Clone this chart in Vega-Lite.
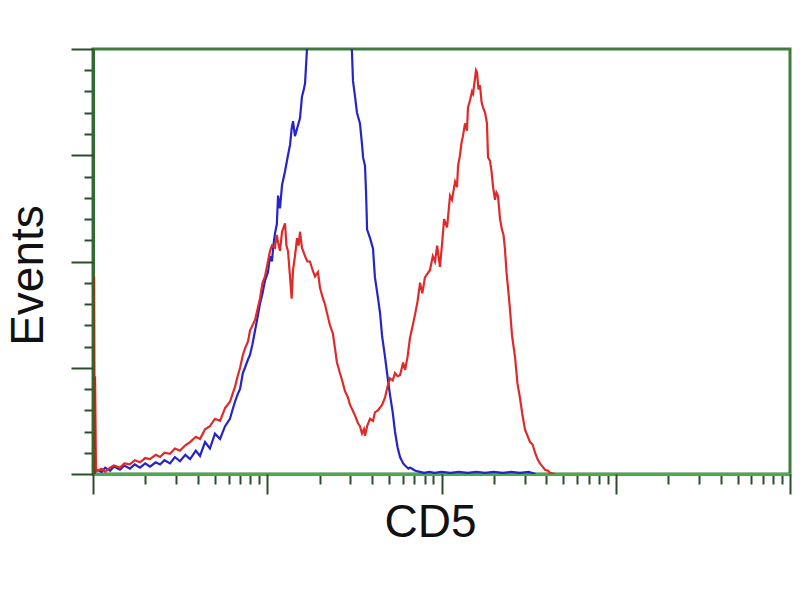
{
  "$schema": "https://vega.github.io/schema/vega-lite/v6.json",
  "width": 697,
  "height": 425,
  "autosize": "none",
  "padding": {"left": 93, "top": 49, "right": 10, "bottom": 126},
  "background": "white",
  "config": {
    "view": {"stroke": "#3e7b3e", "strokeWidth": 3},
    "axis": {"grid": false}
  },
  "datasets": {
    "hist": [
      {"s": "Control", "x": 0.005, "y": 0}, {"s": "Control", "x": 0.023, "y": 4}, {"s": "Control", "x": 0.05, "y": 2}, {"s": "Control", "x": 0.07, "y": 6}, {"s": "Control", "x": 0.098, "y": 3}, {"s": "Control", "x": 0.12, "y": 7}, {"s": "Control", "x": 0.155, "y": 4}, {"s": "Control", "x": 0.18, "y": 8}, {"s": "Control", "x": 0.212, "y": 5}, {"s": "Control", "x": 0.24, "y": 9}, {"s": "Control", "x": 0.27, "y": 6}, {"s": "Control", "x": 0.3, "y": 10}, {"s": "Control", "x": 0.327, "y": 7}, {"s": "Control", "x": 0.36, "y": 11}, {"s": "Control", "x": 0.385, "y": 9}, {"s": "Control", "x": 0.41, "y": 13}, {"s": "Control", "x": 0.442, "y": 10}, {"s": "Control", "x": 0.47, "y": 16}, {"s": "Control", "x": 0.499, "y": 12}, {"s": "Control", "x": 0.53, "y": 18}, {"s": "Control", "x": 0.557, "y": 14}, {"s": "Control", "x": 0.59, "y": 22}, {"s": "Control", "x": 0.614, "y": 17}, {"s": "Control", "x": 0.643, "y": 30}, {"s": "Control", "x": 0.671, "y": 24}, {"s": "Control", "x": 0.7, "y": 38}, {"s": "Control", "x": 0.729, "y": 33}, {"s": "Control", "x": 0.758, "y": 45}, {"s": "Control", "x": 0.786, "y": 52}, {"s": "Control", "x": 0.8, "y": 60}, {"s": "Control", "x": 0.815, "y": 68}, {"s": "Control", "x": 0.83, "y": 75}, {"s": "Control", "x": 0.844, "y": 80}, {"s": "Control", "x": 0.86, "y": 95}, {"s": "Control", "x": 0.872, "y": 100}, {"s": "Control", "x": 0.89, "y": 108}, {"s": "Control", "x": 0.901, "y": 112}, {"s": "Control", "x": 0.915, "y": 122}, {"s": "Control", "x": 0.93, "y": 135}, {"s": "Control", "x": 0.945, "y": 148}, {"s": "Control", "x": 0.958, "y": 160}, {"s": "Control", "x": 0.973, "y": 170}, {"s": "Control", "x": 0.987, "y": 182}, {"s": "Control", "x": 1.004, "y": 190}, {"s": "Control", "x": 1.016, "y": 205}, {"s": "Control", "x": 1.027, "y": 200}, {"s": "Control", "x": 1.035, "y": 215}, {"s": "Control", "x": 1.044, "y": 226}, {"s": "Control", "x": 1.055, "y": 235}, {"s": "Control", "x": 1.062, "y": 262}, {"s": "Control", "x": 1.073, "y": 250}, {"s": "Control", "x": 1.085, "y": 272}, {"s": "Control", "x": 1.102, "y": 285}, {"s": "Control", "x": 1.119, "y": 300}, {"s": "Control", "x": 1.131, "y": 310}, {"s": "Control", "x": 1.14, "y": 325}, {"s": "Control", "x": 1.148, "y": 332}, {"s": "Control", "x": 1.159, "y": 318}, {"s": "Control", "x": 1.171, "y": 325}, {"s": "Control", "x": 1.188, "y": 335}, {"s": "Control", "x": 1.199, "y": 355}, {"s": "Control", "x": 1.21, "y": 362}, {"s": "Control", "x": 1.217, "y": 368}, {"s": "Control", "x": 1.228, "y": 400}, {"s": "Control", "x": 1.24, "y": 440}, {"s": "Control", "x": 1.26, "y": 470}, {"s": "Control", "x": 1.3, "y": 500}, {"s": "Control", "x": 1.35, "y": 520}, {"s": "Control", "x": 1.4, "y": 510}, {"s": "Control", "x": 1.44, "y": 470}, {"s": "Control", "x": 1.475, "y": 420}, {"s": "Control", "x": 1.486, "y": 398}, {"s": "Control", "x": 1.492, "y": 370}, {"s": "Control", "x": 1.504, "y": 355}, {"s": "Control", "x": 1.515, "y": 340}, {"s": "Control", "x": 1.532, "y": 330}, {"s": "Control", "x": 1.544, "y": 310}, {"s": "Control", "x": 1.55, "y": 298}, {"s": "Control", "x": 1.561, "y": 290}, {"s": "Control", "x": 1.567, "y": 265}, {"s": "Control", "x": 1.573, "y": 230}, {"s": "Control", "x": 1.59, "y": 222}, {"s": "Control", "x": 1.607, "y": 212}, {"s": "Control", "x": 1.618, "y": 185}, {"s": "Control", "x": 1.636, "y": 165}, {"s": "Control", "x": 1.647, "y": 152}, {"s": "Control", "x": 1.659, "y": 130}, {"s": "Control", "x": 1.676, "y": 110}, {"s": "Control", "x": 1.69, "y": 92}, {"s": "Control", "x": 1.704, "y": 75}, {"s": "Control", "x": 1.72, "y": 58}, {"s": "Control", "x": 1.733, "y": 40}, {"s": "Control", "x": 1.748, "y": 25}, {"s": "Control", "x": 1.762, "y": 16}, {"s": "Control", "x": 1.78, "y": 10}, {"s": "Control", "x": 1.791, "y": 8}, {"s": "Control", "x": 1.81, "y": 5}, {"s": "Control", "x": 1.819, "y": 6}, {"s": "Control", "x": 1.85, "y": 3}, {"s": "Control", "x": 1.877, "y": 2}, {"s": "Control", "x": 1.9, "y": 1}, {"s": "Control", "x": 1.93, "y": 2}, {"s": "Control", "x": 1.96, "y": 1}, {"s": "Control", "x": 2.0, "y": 2}, {"s": "Control", "x": 2.05, "y": 1}, {"s": "Control", "x": 2.1, "y": 2}, {"s": "Control", "x": 2.15, "y": 1}, {"s": "Control", "x": 2.2, "y": 2}, {"s": "Control", "x": 2.25, "y": 1}, {"s": "Control", "x": 2.3, "y": 2}, {"s": "Control", "x": 2.35, "y": 1}, {"s": "Control", "x": 2.4, "y": 2}, {"s": "Control", "x": 2.45, "y": 1}, {"s": "Control", "x": 2.5, "y": 2}, {"s": "Control", "x": 2.54, "y": 0},
      {"s": "CD5", "x": 0.0, "y": 0}, {"s": "CD5", "x": 0.006, "y": 91}, {"s": "CD5", "x": 0.012, "y": 91}, {"s": "CD5", "x": 0.017, "y": 5}, {"s": "CD5", "x": 0.023, "y": 3}, {"s": "CD5", "x": 0.05, "y": 5}, {"s": "CD5", "x": 0.07, "y": 2}, {"s": "CD5", "x": 0.098, "y": 6}, {"s": "CD5", "x": 0.12, "y": 8}, {"s": "CD5", "x": 0.155, "y": 6}, {"s": "CD5", "x": 0.18, "y": 10}, {"s": "CD5", "x": 0.212, "y": 9}, {"s": "CD5", "x": 0.24, "y": 13}, {"s": "CD5", "x": 0.27, "y": 11}, {"s": "CD5", "x": 0.3, "y": 15}, {"s": "CD5", "x": 0.327, "y": 14}, {"s": "CD5", "x": 0.36, "y": 18}, {"s": "CD5", "x": 0.385, "y": 16}, {"s": "CD5", "x": 0.41, "y": 20}, {"s": "CD5", "x": 0.442, "y": 19}, {"s": "CD5", "x": 0.47, "y": 24}, {"s": "CD5", "x": 0.499, "y": 22}, {"s": "CD5", "x": 0.53, "y": 27}, {"s": "CD5", "x": 0.557, "y": 30}, {"s": "CD5", "x": 0.59, "y": 35}, {"s": "CD5", "x": 0.614, "y": 33}, {"s": "CD5", "x": 0.643, "y": 42}, {"s": "CD5", "x": 0.671, "y": 45}, {"s": "CD5", "x": 0.7, "y": 52}, {"s": "CD5", "x": 0.729, "y": 50}, {"s": "CD5", "x": 0.758, "y": 62}, {"s": "CD5", "x": 0.786, "y": 68}, {"s": "CD5", "x": 0.8, "y": 75}, {"s": "CD5", "x": 0.815, "y": 82}, {"s": "CD5", "x": 0.83, "y": 92}, {"s": "CD5", "x": 0.844, "y": 100}, {"s": "CD5", "x": 0.86, "y": 112}, {"s": "CD5", "x": 0.872, "y": 118}, {"s": "CD5", "x": 0.89, "y": 125}, {"s": "CD5", "x": 0.901, "y": 135}, {"s": "CD5", "x": 0.93, "y": 145}, {"s": "CD5", "x": 0.958, "y": 165}, {"s": "CD5", "x": 0.973, "y": 180}, {"s": "CD5", "x": 0.987, "y": 186}, {"s": "CD5", "x": 1.004, "y": 200}, {"s": "CD5", "x": 1.016, "y": 210}, {"s": "CD5", "x": 1.027, "y": 215}, {"s": "CD5", "x": 1.044, "y": 213}, {"s": "CD5", "x": 1.055, "y": 225}, {"s": "CD5", "x": 1.062, "y": 218}, {"s": "CD5", "x": 1.073, "y": 210}, {"s": "CD5", "x": 1.085, "y": 228}, {"s": "CD5", "x": 1.102, "y": 236}, {"s": "CD5", "x": 1.11, "y": 215}, {"s": "CD5", "x": 1.119, "y": 210}, {"s": "CD5", "x": 1.131, "y": 185}, {"s": "CD5", "x": 1.14, "y": 165}, {"s": "CD5", "x": 1.148, "y": 192}, {"s": "CD5", "x": 1.159, "y": 205}, {"s": "CD5", "x": 1.171, "y": 222}, {"s": "CD5", "x": 1.18, "y": 215}, {"s": "CD5", "x": 1.188, "y": 228}, {"s": "CD5", "x": 1.199, "y": 213}, {"s": "CD5", "x": 1.217, "y": 205}, {"s": "CD5", "x": 1.23, "y": 200}, {"s": "CD5", "x": 1.245, "y": 200}, {"s": "CD5", "x": 1.26, "y": 192}, {"s": "CD5", "x": 1.274, "y": 186}, {"s": "CD5", "x": 1.291, "y": 190}, {"s": "CD5", "x": 1.303, "y": 175}, {"s": "CD5", "x": 1.32, "y": 165}, {"s": "CD5", "x": 1.331, "y": 160}, {"s": "CD5", "x": 1.345, "y": 150}, {"s": "CD5", "x": 1.36, "y": 140}, {"s": "CD5", "x": 1.377, "y": 132}, {"s": "CD5", "x": 1.389, "y": 118}, {"s": "CD5", "x": 1.4, "y": 105}, {"s": "CD5", "x": 1.417, "y": 95}, {"s": "CD5", "x": 1.43, "y": 88}, {"s": "CD5", "x": 1.446, "y": 78}, {"s": "CD5", "x": 1.463, "y": 72}, {"s": "CD5", "x": 1.475, "y": 65}, {"s": "CD5", "x": 1.49, "y": 60}, {"s": "CD5", "x": 1.504, "y": 55}, {"s": "CD5", "x": 1.52, "y": 48}, {"s": "CD5", "x": 1.532, "y": 45}, {"s": "CD5", "x": 1.544, "y": 38}, {"s": "CD5", "x": 1.555, "y": 42}, {"s": "CD5", "x": 1.561, "y": 36}, {"s": "CD5", "x": 1.573, "y": 45}, {"s": "CD5", "x": 1.59, "y": 52}, {"s": "CD5", "x": 1.607, "y": 50}, {"s": "CD5", "x": 1.618, "y": 58}, {"s": "CD5", "x": 1.636, "y": 60}, {"s": "CD5", "x": 1.659, "y": 65}, {"s": "CD5", "x": 1.676, "y": 72}, {"s": "CD5", "x": 1.69, "y": 82}, {"s": "CD5", "x": 1.704, "y": 90}, {"s": "CD5", "x": 1.72, "y": 88}, {"s": "CD5", "x": 1.733, "y": 95}, {"s": "CD5", "x": 1.748, "y": 92}, {"s": "CD5", "x": 1.762, "y": 93}, {"s": "CD5", "x": 1.78, "y": 105}, {"s": "CD5", "x": 1.791, "y": 98}, {"s": "CD5", "x": 1.805, "y": 110}, {"s": "CD5", "x": 1.819, "y": 128}, {"s": "CD5", "x": 1.835, "y": 140}, {"s": "CD5", "x": 1.848, "y": 150}, {"s": "CD5", "x": 1.862, "y": 162}, {"s": "CD5", "x": 1.877, "y": 180}, {"s": "CD5", "x": 1.89, "y": 170}, {"s": "CD5", "x": 1.905, "y": 185}, {"s": "CD5", "x": 1.917, "y": 188}, {"s": "CD5", "x": 1.934, "y": 192}, {"s": "CD5", "x": 1.95, "y": 205}, {"s": "CD5", "x": 1.963, "y": 200}, {"s": "CD5", "x": 1.975, "y": 215}, {"s": "CD5", "x": 1.991, "y": 195}, {"s": "CD5", "x": 2.003, "y": 216}, {"s": "CD5", "x": 2.015, "y": 240}, {"s": "CD5", "x": 2.032, "y": 232}, {"s": "CD5", "x": 2.049, "y": 262}, {"s": "CD5", "x": 2.06, "y": 258}, {"s": "CD5", "x": 2.078, "y": 275}, {"s": "CD5", "x": 2.089, "y": 270}, {"s": "CD5", "x": 2.095, "y": 290}, {"s": "CD5", "x": 2.106, "y": 300}, {"s": "CD5", "x": 2.115, "y": 312}, {"s": "CD5", "x": 2.123, "y": 318}, {"s": "CD5", "x": 2.135, "y": 330}, {"s": "CD5", "x": 2.146, "y": 323}, {"s": "CD5", "x": 2.152, "y": 345}, {"s": "CD5", "x": 2.164, "y": 352}, {"s": "CD5", "x": 2.175, "y": 360}, {"s": "CD5", "x": 2.181, "y": 358}, {"s": "CD5", "x": 2.192, "y": 372}, {"s": "CD5", "x": 2.198, "y": 380}, {"s": "CD5", "x": 2.204, "y": 378}, {"s": "CD5", "x": 2.212, "y": 362}, {"s": "CD5", "x": 2.221, "y": 366}, {"s": "CD5", "x": 2.23, "y": 350}, {"s": "CD5", "x": 2.238, "y": 345}, {"s": "CD5", "x": 2.25, "y": 340}, {"s": "CD5", "x": 2.261, "y": 330}, {"s": "CD5", "x": 2.267, "y": 298}, {"s": "CD5", "x": 2.278, "y": 295}, {"s": "CD5", "x": 2.287, "y": 285}, {"s": "CD5", "x": 2.296, "y": 270}, {"s": "CD5", "x": 2.307, "y": 258}, {"s": "CD5", "x": 2.315, "y": 265}, {"s": "CD5", "x": 2.324, "y": 262}, {"s": "CD5", "x": 2.336, "y": 240}, {"s": "CD5", "x": 2.347, "y": 230}, {"s": "CD5", "x": 2.356, "y": 225}, {"s": "CD5", "x": 2.364, "y": 212}, {"s": "CD5", "x": 2.373, "y": 190}, {"s": "CD5", "x": 2.382, "y": 175}, {"s": "CD5", "x": 2.393, "y": 155}, {"s": "CD5", "x": 2.405, "y": 130}, {"s": "CD5", "x": 2.422, "y": 110}, {"s": "CD5", "x": 2.436, "y": 85}, {"s": "CD5", "x": 2.45, "y": 72}, {"s": "CD5", "x": 2.465, "y": 55}, {"s": "CD5", "x": 2.479, "y": 42}, {"s": "CD5", "x": 2.496, "y": 35}, {"s": "CD5", "x": 2.508, "y": 30}, {"s": "CD5", "x": 2.522, "y": 28}, {"s": "CD5", "x": 2.537, "y": 20}, {"s": "CD5", "x": 2.551, "y": 14}, {"s": "CD5", "x": 2.565, "y": 10}, {"s": "CD5", "x": 2.58, "y": 7}, {"s": "CD5", "x": 2.594, "y": 4}, {"s": "CD5", "x": 2.611, "y": 3}, {"s": "CD5", "x": 2.623, "y": 1}, {"s": "CD5", "x": 2.651, "y": 0},
      {"s": "Edge", "x": 0.0, "y": 0}, {"s": "Edge", "x": 0.003, "y": 185}, {"s": "Edge", "x": 0.007, "y": 185}, {"s": "Edge", "x": 0.01, "y": 0}
    ]
  },
  "data": {"name": "hist"},
  "layer": [
    {
      "transform": [{"filter": "datum.s !== 'Edge'"}],
      "mark": {"type": "line", "strokeWidth": 2.2, "clip": true, "interpolate": "linear"},
      "encoding": {
        "x": {
          "field": "x", "type": "quantitative",
          "scale": {"domain": [0, 4], "nice": false, "zero": false},
          "axis": {
            "orient": "bottom",
            "values": [0.301, 0.477, 0.602, 0.699, 0.778, 0.845, 0.903, 0.954, 1.301, 1.477, 1.602, 1.699, 1.778, 1.845, 1.903, 1.954, 2.301, 2.477, 2.602, 2.699, 2.778, 2.845, 2.903, 2.954, 3.301, 3.477, 3.602, 3.699, 3.778, 3.845, 3.903, 3.954],
            "labels": false, "title": null, "tickSize": 10, "tickWidth": 2, "tickColor": "#2c4d2c",
            "domainColor": "#49ab49", "domainWidth": 3
          }
        },
        "y": {
          "field": "y", "type": "quantitative",
          "scale": {"domain": [0, 400], "nice": false},
          "axis": {
            "orient": "left",
            "values": [20, 40, 60, 80, 120, 140, 160, 180, 220, 240, 260, 280, 320, 340, 360, 380],
            "labels": false, "title": null, "tickSize": 9, "tickWidth": 2, "tickColor": "#2c4d2c",
            "domainColor": "#2f6b2f", "domainWidth": 3
          }
        },
        "color": {
          "field": "s", "type": "nominal",
          "scale": {"domain": ["Control", "CD5", "Edge"], "range": ["#2424c8", "#e02a2a", "#8a3a12"]},
          "legend": null
        },
        "order": {"field": "x", "type": "quantitative"}
      }
    },
    {
      "transform": [{"filter": "datum.s === 'Edge'"}],
      "mark": {"type": "line", "strokeWidth": 2, "clip": true},
      "encoding": {
        "x": {
          "field": "x", "type": "quantitative",
          "axis": {
            "orient": "bottom", "values": [0, 1, 2, 3, 4],
            "labels": false, "tickSize": 20, "tickWidth": 2, "tickColor": "#2c4d2c", "domain": false,
            "title": "CD5", "titleFont": "Liberation Sans", "titleFontSize": 46, "titleFontWeight": "normal",
            "titleColor": "#111111", "titlePadding": 5, "titleX": 337
          }
        },
        "y": {
          "field": "y", "type": "quantitative",
          "axis": {
            "orient": "left", "values": [0, 100, 200, 300, 400],
            "labels": false, "tickSize": 22, "tickWidth": 2, "tickColor": "#2c4d2c", "domain": false,
            "title": "Events", "titleFont": "Liberation Sans", "titleFontSize": 46, "titleFontWeight": "normal",
            "titleColor": "#111111", "titlePadding": 18, "titleY": 226
          }
        },
        "color": {"field": "s", "type": "nominal", "legend": null}
      }
    }
  ],
  "resolve": {"axis": {"x": "independent", "y": "independent"}}
}
